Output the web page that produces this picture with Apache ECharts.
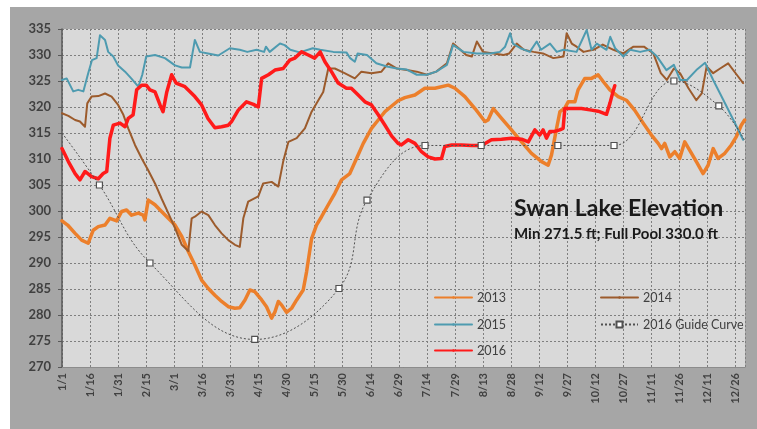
<!DOCTYPE html>
<html>
<head>
<meta charset="utf-8">
<script src="https://cdn.jsdelivr.net/npm/echarts@6/dist/echarts.min.js"></script>
<style>
html,body{margin:0;padding:0;background:#fff;}
#frame{position:absolute;left:10px;top:7px;width:747px;height:422px;background:#a6a6a6;}
#main{position:absolute;left:0;top:0;width:757px;height:429px;}
</style>
</head>
<body>
<div id="frame"></div>
<div id="main"></div>
<script>
// x = day of year (0 = 1/1), y = elevation in ft
var tickLabels = ['1/1','1/16','1/31','2/15','3/1','3/16','3/31','4/15','4/30','5/15','5/30','6/14','6/29',
    '7/14','7/29','8/13','8/28','9/12','9/27','10/12','10/27','11/11','11/26','12/11','12/26'];

var y2013 = [[0,298.1],[3,297.3],[7,295.7],[10.5,294.4],[14,293.8],[16.7,296.3],[19.4,297],[23,297.3],[25.6,298.6],[29.2,298.1],
    [31.9,299.9],[34.5,300.2],[37.2,299.2],[40.8,299.6],[43.4,299.2],[44.3,298.3],[46.1,302.1],[49.7,301.2],[53.2,299.9],[56.8,298.6],
    [60.4,297.3],[64,295.1],[67.5,292.2],[71,289.6],[74.6,286.7],[78.2,285.1],[81.7,283.8],[85.3,282.6],[88.9,281.6],[92.4,281.3],
    [95,281.4],[97.8,282.9],[100.4,284.8],[103,284.5],[106.7,282.9],[109.3,281.6],[112,279.4],[113.8,280.6],[115.6,282.6],[117.4,281.9],
    [120,280.5],[122.7,281.3],[125.4,282.9],[128.9,284.8],[130.7,288.3],[133.4,294.7],[136,297.3],[138.7,298.9],[142.3,301.2],[145.8,303.4],
    [149.4,306],[153.8,307.2],[157.4,310.1],[161,313],[165.4,315.9],[169,317.5],[172.6,319.1],[176.2,320.2],[179.6,321.2],[183.2,321.8],
    [188.6,322.3],[193.9,323.6],[199.3,323.6],[206.4,324.2],[210,323.6],[215.3,322],[220.7,319.7],[226,317.2],[227.7,317.5],[230.5,319.7],
    [234.9,317.8],[240.2,315.6],[245.6,313.3],[250.9,311.1],[256.3,309.5],[259.8,308.8],[261.6,310.8],[264.3,315.9],[266.1,319.1],[268.7,319.8],
    [270.5,321],[274.1,321],[275.8,323.3],[279.4,325.5],[283,325.5],[286.5,326.2],[289.2,324.9],[292.8,323.3],[297.2,322],[301.6,321.3],
    [306,319.4],[310.6,316.9],[315,314.6],[318.6,313],[320.4,312],[322.1,313],[324.8,310.4],[327.5,311.4],[330.1,310.1],[332.8,313.3],
    [335.4,311.7],[339,309.5],[342.6,307.2],[345.3,308.8],[348,312],[350.6,310.1],[354.2,311.1],[357.7,312.7],[360.4,314.3],[363,316.5],[364.8,317.5]];

var y2014 = [[0,318.8],[3.4,318.3],[7,317.5],[9.6,317.2],[12.3,316.2],[13.5,320.7],[15.8,322],[19.4,322.1],[23,322.6],[26.5,322],
    [30,320.4],[32.8,318.5],[35.4,315.9],[39,312.7],[42.6,310.1],[46,307.9],[49.7,305.3],[53.2,302.4],[56.8,299.6],[60.4,296.7],
    [64,293.5],[67.5,292.3],[69.3,298.6],[71,298.9],[74.6,299.9],[78.2,299.2],[81.7,297.3],[85.3,295.7],[88.9,294.4],[92.4,293.5],
    [95,293.1],[96.9,298.6],[99.5,301.8],[104.9,302.8],[107.5,305.3],[112,305.6],[115.6,304.7],[118.2,309.5],[121,313.3],[125.4,314],
    [129.8,315.9],[133.4,319.1],[137,321.3],[139.6,322.9],[142.3,327.4],[145.8,327.4],[151,326.5],[156.5,325.5],[160,326.8],[165.4,326.5],
    [170.7,326.8],[174.3,328.4],[179,327.4],[184.3,327.1],[189.6,326.8],[195,326.2],[200,326.8],[205.7,328.4],[209,332.2],[212,331.3],
    [216,330],[219,329.7],[221.7,332.6],[225,330.6],[230.5,330.3],[236,330],[239,330.3],[243,332.2],[246.8,331],[252,330.6],
    [257,330.3],[262.6,329.4],[268,329.7],[269.7,334.2],[272.4,332.2],[275,331.6],[278.7,330.6],[284,331],[289,332],[294.7,331],
    [300,330.3],[305.4,331.6],[311,331.6],[316,330.3],[320,326.5],[323.2,325.2],[327,327.4],[330.3,326.5],[334.8,323.6],[339,321.3],
    [341.9,322.6],[344.5,327.8],[348,326.5],[351.7,327.4],[356,328.4],[360.6,326.2],[364,324.6]];

var y2015 = [[0,325.2],[2.5,325.5],[6,323],[8.7,323.3],[11.4,323],[14,326.5],[16,329],[18.5,329.4],[20.3,333.8],[23,332.9],
    [24.7,330.6],[27.4,329.7],[30,328],[33.7,326.8],[37,325.5],[40.8,323.9],[42.9,326.2],[45,329.7],[49.7,330],[55,329.4],
    [60.4,328],[64,327.6],[68.4,327.6],[71,332.9],[73.7,330.6],[78,330.3],[83.5,329.9],[89.7,331.3],[95,331],[99,330.6],
    [104,331],[108,330.6],[109,331.6],[111,330.6],[116.5,332.2],[119,331.9],[122,331],[127,330.5],[134,331.3],[138,331],
    [145,330.6],[152,330.5],[154,329.4],[156.5,328.7],[158,330.3],[163,330],[168,328.4],[173.6,327.8],[179,327.4],[184.3,327.2],
    [189.6,326.2],[195,326.2],[200,326.8],[205.7,328.1],[209,331.9],[214.6,330.6],[221.7,330.3],[228.8,330.3],[234,330.6],[236.8,331.6],
    [239.5,334.2],[241,332.2],[245,331.3],[250,330.6],[253.7,332.6],[256,331],[260.8,332.2],[264.4,330.6],[268,331],[275,330.6],
    [280.4,334.8],[283,331],[285.8,332.2],[291,331],[293,333.5],[295.6,331.3],[300,329.7],[303.6,331],[309,330.6],[314,331],
    [318,329.7],[323,327.1],[327,328.1],[330.3,325.2],[334,325.2],[339,327.1],[343.7,328.5],[348,325.2],[353.5,321.3],[358.8,317.5],[364,313.7]];

var y2016 = [[0,312],[3.4,309.5],[7,307.2],[9.6,306],[12.3,307.6],[15.8,306.6],[19.4,306.2],[22,307.2],[23.9,307.6],[25.6,314],
    [27.4,316.5],[31,316.9],[33.7,316.2],[35.4,317.8],[38,318.5],[39.9,323.3],[42.6,324.2],[45,324.2],[47,323.3],[49.7,322.9],
    [52.4,320.4],[54,319.1],[56,322.9],[58.6,326.2],[61,324.6],[65.7,323.9],[71,322],[74.6,320.4],[78,317.8],[81.7,316],
    [85.3,316.2],[88.9,316.5],[90.6,317.2],[94.2,319.4],[98.6,321],[102.3,320.5],[104.9,320],[106.7,325.5],[110.3,326.2],[113.8,327.1],
    [118.2,327.4],[121.7,329],[124.4,329.4],[128,330.6],[131.6,330],[135,329.4],[138,330.6],[140.5,328.7],[144,326.8],[147.6,324.6],
    [152,323.6],[154.6,323.6],[158.3,322.3],[161.9,321],[165.4,320.4],[169,318.5],[172.6,316.5],[176.2,314.4],[179.6,313],[181.4,312.7],
    [185,313.7],[188.6,313],[192.1,311.4],[195.7,310.4],[199.3,310],[202.8,310.1],[204.6,312.4],[208.2,312.7],[213.5,312.7],[218.9,312.6],
    [224.2,312.6],[229.5,313.7],[234.9,313.8],[240.2,314],[245.6,313.8],[249.2,313.3],[252.7,315.6],[255.3,314.6],[257.1,315.6],[258.9,314],
    [260.7,315.3],[263.3,315.3],[266,315.6],[267.8,315.9],[268.7,319.7],[272.2,319.7],[277.6,319.7],[283,319.4],[286.5,319.2],[291,318.6],
    [292.8,320.7],[294.5,323],[295.4,324.1]];

// guide curve: marker points, plus start/end without markers
var guideMarks = [[20,305],[47,290],[103,275.3],[148,285.1],[163,302.1],[194,312.6],[224,312.6],[265,312.6],[295,312.6],[327,325],[351,320.2]];
var guideStart = [0,315];
var guideEnd = [365,313.5];

var guideData = [{value: guideStart, symbol: 'none'}]
    .concat(guideMarks.map(function (p) { return {value: p}; }))
    .concat([{value: guideEnd, symbol: 'none'}]);

var font = 'Lato, "Open Sans", sans-serif';
var myChart = echarts.init(document.getElementById('main'));

function lineSeries(name, data, color, width) {
    return {
        name: name, type: 'line', data: data, symbol: 'none', showSymbol: false,
        lineStyle: {color: color, width: width, cap: 'round', join: 'round'},
        itemStyle: {color: color}
    };
}

// one legend box per entry so each row sits where the reference has it
function legendItem(name, left, top, h) {
    return {
        data: [name], left: left, top: top, padding: 0,
        itemWidth: 37, itemHeight: h, selectedMode: false,
        textStyle: {fontSize: 12.5, color: '#404040', fontFamily: font}
    };
}

var option = {
    animation: false,
    backgroundColor: 'transparent',
    textStyle: {fontFamily: font},
    title: [
        {text: 'Swan Lake Elevation', left: 514, top: 197, padding: 0,
            textStyle: {fontSize: 23, fontWeight: 'bold', color: '#1a1a1a', fontFamily: font}},
        {text: 'Min 271.5 ft; Full Pool 330.0 ft', left: 514, top: 227, padding: 0,
            textStyle: {fontSize: 15, fontWeight: 'bold', color: '#1a1a1a', fontFamily: font}}
    ],
    legend: [
        legendItem('2013', 434, 291, 3),
        legendItem('2015', 434, 318, 3),
        legendItem('2016', 434, 344, 3),
        legendItem('2014', 600, 291, 3),
        legendItem('2016 Guide Curve', 600, 318, 7.5)
    ],
    grid: {left: 62, top: 29, right: 12, bottom: 62, show: true, backgroundColor: '#d9d9d9', borderWidth: 0},
    xAxis: {
        type: 'value', min: 0, max: 365, interval: 15,
        axisLine: {show: true, lineStyle: {color: '#8c8c8c'}},
        axisTick: {show: false},
        axisLabel: {
            rotate: 90, fontSize: 11, fontWeight: 'bold', color: '#404040', margin: 6,
            formatter: function (v) { return tickLabels[v / 15] || ''; }
        },
        splitLine: {show: true, lineStyle: {color: '#7f7f7f', width: 1, type: [2, 2]}}
    },
    yAxis: {
        type: 'value', min: 270, max: 335, interval: 5,
        axisLine: {show: true, lineStyle: {color: '#595959', width: 1.5}},
        axisTick: {show: true, length: 4, lineStyle: {color: '#595959'}},
        axisLabel: {fontSize: 13, fontWeight: 'bold', color: '#404040', margin: 11},
        splitLine: {show: true, lineStyle: {color: '#7f7f7f', width: 1, type: [2, 2]}}
    },
    series: [
        lineSeries('2013', y2013, '#ec7f2b', 3.5),
        lineSeries('2014', y2014, '#9c5b2c', 2),
        lineSeries('2015', y2015, '#4e9bb0', 2),
        lineSeries('2016', y2016, '#ff1a1a', 3.5),
        {
            name: '2016 Guide Curve', type: 'line', data: guideData, smooth: 0.4,
            symbol: 'rect', symbolSize: 6, showAllSymbol: true,
            lineStyle: {color: '#505050', width: 1, type: [2, 2]},
            itemStyle: {color: '#ffffff', borderColor: '#505050', borderWidth: 1.2}
        }
    ]
};

myChart.setOption(option);
</script>
</body>
</html>
